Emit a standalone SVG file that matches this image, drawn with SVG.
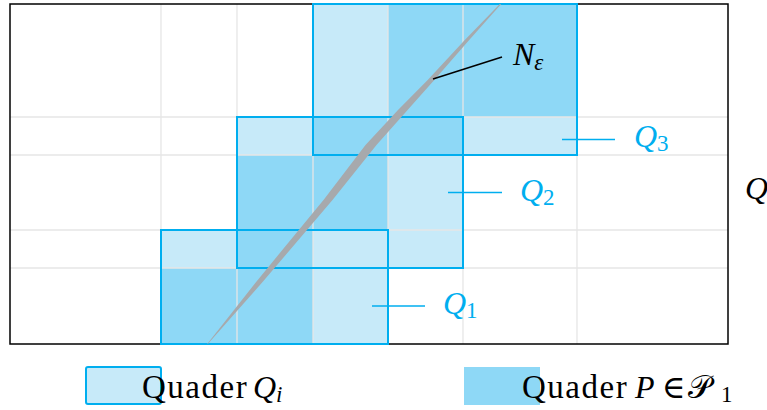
<svg xmlns="http://www.w3.org/2000/svg" width="767" height="410" viewBox="0 0 767 410">
<style>
.lt{fill:#C7EAF9}
.dk{fill:#8ED8F6}
.grid{stroke:#E6E6E6;stroke-width:1.3;fill:none}
.qb{fill:none;stroke:#00AEEF;stroke-width:2}
.lead{stroke:#00AEEF;stroke-width:1.5;fill:none}
.t{font-family:"Liberation Serif","DejaVu Serif",serif;font-size:32px}
.it{font-style:italic}
.blue{fill:#00AEEF}
.sub{font-size:23px}
.wide{font-size:33px;letter-spacing:1.5px}
</style>
<rect width="767" height="410" fill="#fff"/>
<g id="cells">
<rect class="lt" x="313" y="4" width="75" height="113"/>
<rect class="lt" x="463" y="117" width="114" height="38"/>
<rect class="lt" x="237" y="117" width="76" height="38"/>
<rect class="lt" x="388" y="155" width="75" height="113"/>
<rect class="lt" x="161" y="230" width="76" height="38"/>
<rect class="lt" x="313" y="230" width="75" height="114"/>
<rect class="dk" x="388" y="4" width="189" height="113"/>
<rect class="dk" x="313" y="117" width="150" height="38"/>
<rect class="dk" x="237" y="155" width="151" height="75"/>
<rect class="dk" x="237" y="230" width="76" height="38"/>
<rect class="dk" x="161" y="268" width="152" height="76"/>
</g>
<g id="grid" class="grid">
<path d="M161 4V344M237 4V344M313 4V344M388 4V344M463 4V344M577 4V344M10 117H728M10 155H728M10 230H728M10 268H728"/>
</g>
<g id="cube-Q">
<rect x="10" y="4" width="718" height="340" fill="none" stroke="#000" stroke-width="1.5"/>
</g>
<g id="Q1"><rect class="qb" x="161" y="230" width="227" height="114"/></g>
<g id="Q2"><rect class="qb" x="237" y="117" width="226" height="151"/></g>
<g id="Q3"><rect class="qb" x="313" y="4" width="264" height="151"/></g>
<g id="N-eps">
<polygon fill="#A7A9AC" points="499.8,4 464.8,40 427.7,80 398,110 365.5,145 323.5,200 282.3,250 255.3,283 207.2,344 207.8,344 261.7,283 289.9,250 332.5,200 376.5,145 407.6,110 434.3,80 469.2,40 501.2,4"/>
</g>
<g id="connectors">
<line class="lead" x1="372" y1="306" x2="425" y2="306"/>
<line class="lead" x1="448" y1="192.5" x2="502" y2="192.5"/>
<line class="lead" x1="562" y1="139.5" x2="615" y2="139.5"/>
<line x1="433" y1="79" x2="502" y2="57" stroke="#000" stroke-width="1.5"/>
</g>
<g id="labels">
<text class="t it blue" x="443" y="314">Q<tspan class="sub" font-style="normal" dy="4">1</tspan></text>
<text class="t it blue" x="520" y="201">Q<tspan class="sub" font-style="normal" dy="4">2</tspan></text>
<text class="t it blue" x="634" y="147">Q<tspan class="sub" font-style="normal" dy="4">3</tspan></text>
<text class="t it" x="513" y="65">N<tspan class="sub" dy="5">ε</tspan></text>
<text class="t it" x="745" y="199">Q</text>
</g>
<g id="legend-Qi">
<rect x="86" y="367" width="75" height="37" rx="2" fill="#C7EAF9" stroke="#00AEEF" stroke-width="2"/>
<text class="t" x="142" y="398"><tspan class="wide">Quader</tspan><tspan class="it" x="253">Q</tspan><tspan class="it sub" dy="4">i</tspan></text>
</g>
<g id="legend-P">
<rect x="464" y="367" width="76" height="38" fill="#8ED8F6"/>
<text class="t" x="522" y="398"><tspan class="wide">Quader</tspan><tspan class="it" x="635">P</tspan><tspan x="662">∈</tspan><tspan x="688" font-family="'DejaVu Serif','Noto Sans',serif">𝒫</tspan><tspan class="sub" x="721" dy="4">1</tspan></text>
</g>
</svg>
